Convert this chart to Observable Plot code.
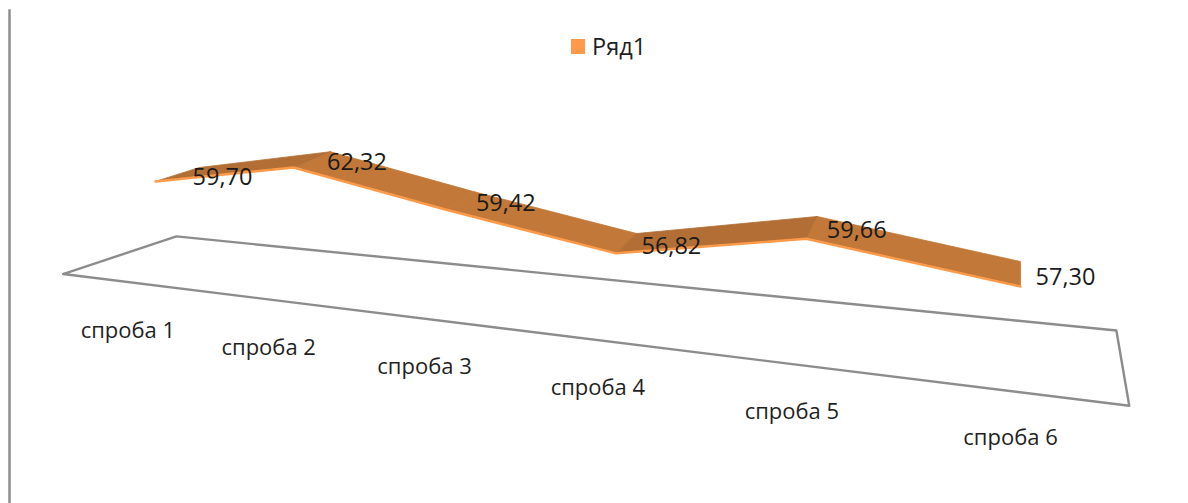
<!DOCTYPE html>
<html>
<head>
<meta charset="utf-8">
<script src="https://cdn.jsdelivr.net/npm/d3@7"></script>
<script src="https://cdn.jsdelivr.net/npm/@observablehq/plot@0.6"></script>
<style>
  html, body { margin: 0; padding: 0; background: #fff; overflow: hidden; }
  #wrap { position: relative; width: 1188px; height: 503px; }
  #legend { position: absolute; left: 571px; top: 31px; display: flex; align-items: center; gap: 7px;
            font: 23.5px "Open Sans", sans-serif; color: #1f1f1f; line-height: 30px; }
  #legend i { display: block; width: 14px; height: 15px; background: #FF9A4A; }
</style>
</head>
<body>
<div id="wrap"><div id="legend"><i></i><span id="seriesName"></span></div></div>
<script>
const categories = ["спроба 1", "спроба 2", "спроба 3", "спроба 4", "спроба 5", "спроба 6"];
const values = [59.70, 62.32, 59.42, 56.82, 59.66, 57.30];
const valueLabels = ["59,70", "62,32", "59,42", "56,82", "59,66", "57,30"];
const seriesName = "Ряд1";
const axisMin = 50;

// Excel-style 3D view: category position, value and depth -> picture coordinates.
function project(i, v, d, pitch = 1) {
  const t = i / 5;
  const s = t / (t + 1.317 * (1 - t));
  const xBase = 155 + 865 * s;
  const y = 181 + 0.0873 * (xBase - 155) + (59.7 - v) * (9.5 + 2.8 * s);
  return {x: xBase + 44 * (1 - s) * d, y: y - (14 + 11 * s) * d * pitch};
}

const n = categories.length;
const front = values.map((v, i) => project(i, v, 0));
const back = values.map((v, i) => project(i, v, 1));

const quads = d3.range(n - 1).flatMap(i => [front[i], front[i + 1], back[i + 1], back[i]]
  .map(p => ({...p, seg: i, rising: values[i + 1] > values[i]})));

const floorPitch = 1.19;
const floorLift = 0.15;
const floor = [
  project(-0.5, axisMin + floorLift, -0.6, floorPitch),
  project(5.45, axisMin + floorLift, -0.6, floorPitch),
  project(5.45, axisMin + floorLift, 1.8, floorPitch),
  project(-0.5, axisMin + floorLift, 1.8, floorPitch)
];

const valueText = values.map((v, i) => ({...project(i, v, 0.5), label: valueLabels[i]}));
const categoryText = categories.map((c, i) => ({...project(i, axisMin, -0.4), label: c}));

const font = '"Open Sans", sans-serif';
const chart = Plot.plot({
  width: 1188, height: 503,
  marginLeft: 9, marginRight: 0, marginTop: 10, marginBottom: 0,
  x: {domain: [9, 1188], axis: null},
  y: {domain: [503, 10], axis: null},
  style: {background: "#fff", fontFamily: font},
  marks: [
    Plot.frame({anchor: "left", stroke: "#8e8e8e", strokeWidth: 2.5}),
    Plot.line(floor, {x: "x", y: "y", curve: "linear-closed", stroke: "#8c8c8c", strokeWidth: 2.4, fill: "none"}),
    Plot.line(quads.filter(d => !d.rising), {x: "x", y: "y", z: "seg", curve: "linear-closed", fill: "#C17838", stroke: "#C17838", strokeWidth: 0.8}),
    Plot.line(quads.filter(d => d.rising), {x: "x", y: "y", z: "seg", curve: "linear-closed", fill: "#B26E34", stroke: "#B26E34", strokeWidth: 0.8}),
    Plot.line(front, {x: "x", y: "y", stroke: "#FF9A4A", strokeWidth: 2.5}),
    Plot.text(valueText, {x: "x", y: "y", text: "label", dx: 45, dy: 3, fontSize: 23.5, fill: "#1a1a1a"}),
    Plot.text(categoryText, {x: "x", y: "y", text: "label", dx: -10, dy: 52, fontSize: 22, fill: "#1f1f1f"})
  ]
});
document.getElementById("wrap").prepend(chart);
document.getElementById("seriesName").textContent = seriesName;
</script>
</body>
</html>
